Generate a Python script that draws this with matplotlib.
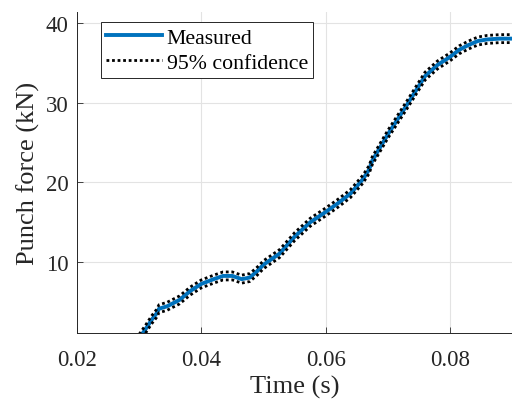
import matplotlib.pyplot as plt

plt.rcParams['font.family'] = 'Liberation Serif'

# measured punch force
time_s = [0.0300, 0.0310, 0.0320, 0.0328, 0.0332, 0.0345, 0.0365, 0.0382, 0.0400,
          0.0420, 0.0435, 0.0450, 0.0465, 0.0478, 0.0490, 0.0500, 0.0526, 0.0550,
          0.0575, 0.0600, 0.0620, 0.0640, 0.0660, 0.0670, 0.0675, 0.0700, 0.0730,
          0.0760, 0.0780, 0.0800, 0.0815, 0.0830, 0.0845, 0.0860, 0.0880, 0.0900]
force_kn = [0.5, 1.6, 2.8, 3.6, 4.2, 4.5, 5.3, 6.4, 7.3,
            7.9, 8.3, 8.3, 7.9, 8.1, 8.9, 9.7, 11.1, 13.2,
            15.0, 16.3, 17.4, 18.6, 20.4, 21.6, 22.7, 26.0, 29.6,
            33.3, 34.7, 35.7, 36.6, 37.2, 37.7, 37.9, 38.0, 38.0]
# 95% confidence bounds
upper_kn = [1.0, 2.1, 3.3, 4.1, 4.7, 5.0, 5.8, 6.9, 7.8,
            8.4, 8.8, 8.8, 8.4, 8.6, 9.4, 10.2, 11.6, 13.7,
            15.5, 16.8, 17.9, 19.1, 20.9, 22.1, 23.2, 26.5, 30.1,
            33.8, 35.2, 36.2, 37.1, 37.7, 38.2, 38.4, 38.5, 38.5]
lower_kn = [0.0, 1.1, 2.3, 3.1, 3.7, 4.0, 4.8, 5.9, 6.8,
            7.4, 7.8, 7.8, 7.4, 7.6, 8.4, 9.2, 10.6, 12.7,
            14.5, 15.8, 16.9, 18.1, 19.9, 21.1, 22.2, 25.5, 29.1,
            32.8, 34.2, 35.2, 36.1, 36.7, 37.2, 37.4, 37.5, 37.5]

xticks = [0.02, 0.04, 0.06, 0.08]
yticks = [10, 20, 30, 40]

fig = plt.figure(figsize=(5.12, 4.02), dpi=100)
ax = fig.add_axes([0.1504, 0.168, 0.8496, 0.799])

ax.plot(time_s, force_kn, color='#0072BD', lw=2.8, label='Measured')
ax.plot(time_s, upper_kn, color='black', lw=2.0, linestyle=(0, (1, 1)), label='95% confidence')
ax.plot(time_s, lower_kn, color='black', lw=2.0, linestyle=(0, (1, 1)))

ax.set_xlim(0.02, 0.09)
ax.set_ylim(1.1, 41.3)
ax.set_xticks(xticks)
ax.set_xticklabels(['0.02', '0.04', '0.06', '0.08'])
ax.set_yticks(yticks)
ax.tick_params(direction='in', labelsize=16.5, colors='#262626', length=4, width=0.6)
ax.tick_params(axis='x', pad=11)
ax.tick_params(axis='y', pad=6)
ax.grid(True, color='#e3e3e3', lw=0.8)
ax.set_axisbelow(True)
for side in ['top', 'right']:
    ax.spines[side].set_visible(False)
for side in ['left', 'bottom']:
    ax.spines[side].set_color('#262626')
    ax.spines[side].set_linewidth(0.7)

ax.set_xlabel('Time (s)', fontsize=19, color='#262626', labelpad=4)
ax.set_ylabel('Punch force (kN)', fontsize=19, color='#262626', labelpad=4)

leg = ax.legend(loc='upper left', bbox_to_anchor=(0.055, 0.969), fontsize=15.7, frameon=True,
                fancybox=False, edgecolor='#262626', framealpha=1, handlelength=2.57,
                borderpad=0.25, labelspacing=0.22, handletextpad=0.2, borderaxespad=0)
leg.get_frame().set_linewidth(0.7)

plt.savefig('out.png', dpi=100)
